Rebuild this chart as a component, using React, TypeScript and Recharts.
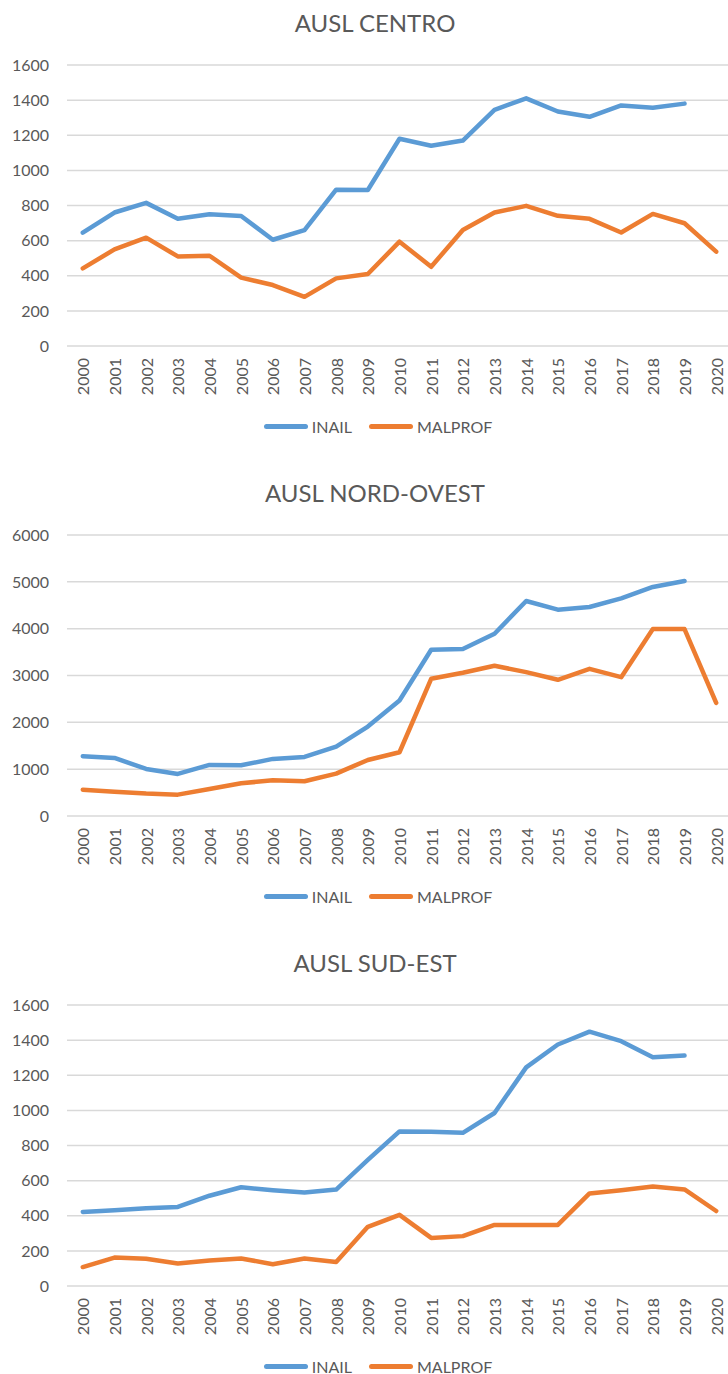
import React from 'react';
import { LineChart, Line, XAxis, YAxis, CartesianGrid } from 'recharts';

const years = [
  '2000', '2001', '2002', '2003', '2004', '2005', '2006', '2007', '2008', '2009', '2010',
  '2011', '2012', '2013', '2014', '2015', '2016', '2017', '2018', '2019', '2020',
];

// AUSL CENTRO
const centroInail = [645, 760, 815, 725, 750, 740, 605, 660, 890, 888, 1180, 1140, 1170, 1345, 1410, 1335, 1305, 1370, 1357, 1380, null];
const centroMalprof = [442, 550, 617, 510, 514, 389, 347, 280, 385, 410, 594, 451, 661, 760, 798, 741, 724, 646, 752, 699, 537];

// AUSL NORD-OVEST
const nordInail = [1276, 1240, 1005, 898, 1090, 1083, 1219, 1262, 1482, 1910, 2466, 3549, 3564, 3892, 4590, 4405, 4462, 4647, 4890, 5018, null];
const nordMalprof = [563, 520, 478, 456, 577, 698, 763, 741, 905, 1197, 1361, 2929, 3058, 3207, 3072, 2908, 3143, 2965, 3991, 3991, 2416];

// AUSL SUD-EST
const sudInail = [422, 432, 443, 450, 514, 562, 545, 532, 549, 718, 880, 878, 872, 985, 1245, 1375, 1448, 1394, 1303, 1312, null];
const sudMalprof = [108, 162, 155, 128, 145, 157, 124, 157, 137, 337, 405, 274, 284, 348, 348, 348, 527, 545, 566, 550, 427];

const ticks1600 = [0, 200, 400, 600, 800, 1000, 1200, 1400, 1600];
const ticks6000 = [0, 1000, 2000, 3000, 4000, 5000, 6000];

const BLUE = '#5B9BD5';
const ORANGE = '#ED7D31';
const GREY_TEXT = '#595959';
const FONT = 'Lato, "Open Sans", sans-serif';

const build = (inail: (number | null)[], malprof: number[]) =>
  years.map((y, i) => ({ year: y, INAIL: inail[i], MALPROF: malprof[i] }));

const YearTick = (props: any) => {
  const { x, y, payload } = props;
  return (
    <text
      transform={`translate(${x},${y + 12}) rotate(-90)`}
      textAnchor="end"
      dominantBaseline="central"
      fill={GREY_TEXT}
      fontSize={16}
      fontFamily={FONT}
    >
      {payload.value}
    </text>
  );
};

interface PanelProps {
  title: string;
  inail: (number | null)[];
  malprof: number[];
  max: number;
  ticks: number[];
}

const Panel: React.FC<PanelProps> = ({ title, inail, malprof, max, ticks }) => {
  const data = build(inail, malprof);
  return (
    <div style={{ position: 'relative', width: 750, height: 470 }}>
      <div
        style={{
          position: 'absolute', top: 8, left: 0, width: 750, textAlign: 'center',
          fontFamily: FONT, fontSize: 24, color: GREY_TEXT, lineHeight: '30px',
        }}
      >
        {title}
      </div>
      <LineChart width={750} height={400} data={data} margin={{ top: 65, right: 18, left: 0, bottom: 4 }}>
        <CartesianGrid vertical={false} stroke="#D9D9D9" strokeWidth={1.5} />
        <XAxis
          dataKey="year"
          height={50}
          axisLine={false}
          tickLine={false}
          tickSize={0}
          tickMargin={0}
          interval={0}
          padding={{ left: 15.8, right: 15.8 }}
          tick={<YearTick />}
        />
        <YAxis
          width={67}
          domain={[0, max]}
          ticks={ticks}
          axisLine={false}
          tickLine={false}
          tickSize={0}
          tickMargin={18}
          tick={{ fill: GREY_TEXT, fontSize: 16, fontFamily: FONT }}
        />
        <Line type="linear" dataKey="INAIL" stroke={BLUE} strokeWidth={4.5} strokeLinecap="round" strokeLinejoin="round" dot={false} activeDot={false} isAnimationActive={false} />
        <Line type="linear" dataKey="MALPROF" stroke={ORANGE} strokeWidth={4.5} strokeLinecap="round" strokeLinejoin="round" dot={false} activeDot={false} isAnimationActive={false} />
      </LineChart>
      <div
        style={{
          position: 'absolute', top: 419, left: 0, width: 756, height: 14, display: 'flex',
          justifyContent: 'center', alignItems: 'center', fontFamily: FONT, fontSize: 16, color: GREY_TEXT,
        }}
      >
        {[{ name: 'INAIL', color: BLUE }, { name: 'MALPROF', color: ORANGE }].map((s, i) => (
          <div key={s.name} style={{ display: 'flex', alignItems: 'center', marginLeft: i ? 17 : 0 }}>
            <span style={{ display: 'inline-block', width: 44, height: 5, borderRadius: 3, background: s.color, marginRight: 4 }} />
            <span style={{ lineHeight: '13px' }}>{s.name}</span>
          </div>
        ))}
      </div>
    </div>
  );
};

export default function App() {
  return (
    <div style={{ position: 'absolute', top: 0, left: 0, width: 728, height: 1374, overflow: 'hidden', background: '#fff' }}>
      <Panel title="AUSL CENTRO" inail={centroInail} malprof={centroMalprof} max={1600} ticks={ticks1600} />
      <Panel title="AUSL NORD-OVEST" inail={nordInail} malprof={nordMalprof} max={6000} ticks={ticks6000} />
      <Panel title="AUSL SUD-EST" inail={sudInail} malprof={sudMalprof} max={1600} ticks={ticks1600} />
    </div>
  );
}
